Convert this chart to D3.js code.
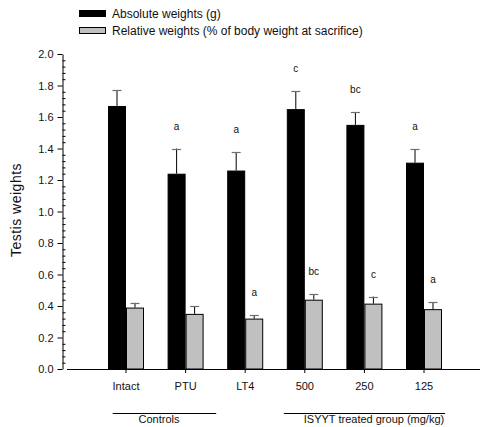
<!DOCTYPE html>
<html>
<head>
<meta charset="utf-8">
<script src="https://cdn.jsdelivr.net/npm/d3@7"></script>
<style>
  body { margin: 0; background: #fff; }
  svg { display: block; font-family: Arial, "Liberation Sans", sans-serif; }
</style>
</head>
<body>
<svg id="chart" width="480" height="427"></svg>
<script>
// Testis weights per treatment group (mean with upper SE bar)
const groups = ["Intact", "PTU", "LT4", "500", "250", "125"];
const absoluteMean = [1.67, 1.24, 1.26, 1.65, 1.55, 1.31];
const absoluteErr = [0.10, 0.16, 0.115, 0.115, 0.08, 0.085];
const relativeMean = [0.39, 0.35, 0.32, 0.44, 0.415, 0.38];
const relativeErr = [0.03, 0.05, 0.02, 0.035, 0.045, 0.045];
const absoluteLetters = ["", "a", "a", "c", "bc", "a"];
const relativeLetters = ["", "", "a", "bc", "c", "a"];
const seriesNames = ["Absolute weights (g)", "Relative weights (% of body weight at sacrifice)"];
const yTicks = [0, 0.2, 0.4, 0.6, 0.8, 1.0, 1.2, 1.4, 1.6, 1.8, 2.0];
const yMinorStep = 0.04;
const yTitle = "Testis weights";
const groupTitles = ["Controls", "ISYYT treated group (mg/kg)"];

const svg = d3.select("#chart");

const y = d3.scaleLinear().domain([0, 2]).range([369, 54]);
const x0 = d3.scaleBand().domain(groups).range([96.2, 453.8])
  .paddingInner(0.396).paddingOuter(0.198);
const x1 = d3.scaleBand().domain(["abs", "rel"]).range([0, x0.bandwidth()]);

const rows = groups.map((g, i) => ({
  group: g,
  bars: [
    { key: "abs", mean: absoluteMean[i], err: absoluteErr[i], letter: absoluteLetters[i] },
    { key: "rel", mean: relativeMean[i], err: relativeErr[i], letter: relativeLetters[i] }
  ]
}));
const fills = { abs: "#000000", rel: "#c0c0c0" };

// x baseline (starts just right of the y axis)
svg.append("line")
  .attr("x1", 67).attr("x2", 480)
  .attr("y1", y(0) + 0.5).attr("y2", y(0) + 0.5)
  .attr("stroke", "#000").attr("stroke-width", 1);

// bars
const gGroup = svg.append("g").selectAll("g").data(rows).join("g")
  .attr("transform", d => `translate(${x0(d.group)},0)`);

gGroup.selectAll("rect").data(d => d.bars).join("rect")
  .attr("x", d => x1(d.key) + 0.5)
  .attr("y", d => y(d.mean) + 0.5)
  .attr("width", x1.bandwidth() - 1)
  .attr("height", d => y(0) - y(d.mean) - 0.5)
  .attr("fill", d => fills[d.key])
  .attr("stroke", "#000").attr("stroke-width", 1);

// upper error bars
gGroup.selectAll("line.stem").data(d => d.bars).join("line")
  .attr("class", "stem")
  .attr("x1", d => x1(d.key) + x1.bandwidth() / 2)
  .attr("x2", d => x1(d.key) + x1.bandwidth() / 2)
  .attr("y1", d => y(d.mean))
  .attr("y2", d => y(d.mean + d.err))
  .attr("stroke", "#000").attr("stroke-width", 1);

gGroup.selectAll("line.cap").data(d => d.bars).join("line")
  .attr("class", "cap")
  .attr("x1", d => x1(d.key) + x1.bandwidth() / 2 - 4.5)
  .attr("x2", d => x1(d.key) + x1.bandwidth() / 2 + 4.5)
  .attr("y1", d => Math.round(y(d.mean + d.err)) + 0.5)
  .attr("y2", d => Math.round(y(d.mean + d.err)) + 0.5)
  .attr("stroke", "#6e6e6e").attr("stroke-width", 1.2);

// significance letters
gGroup.selectAll("text.sig").data(d => d.bars.filter(b => b.letter)).join("text")
  .attr("class", "sig")
  .attr("x", d => x1(d.key) + x1.bandwidth() / 2)
  .attr("y", d => y(d.mean + d.err) - 19)
  .attr("text-anchor", "middle")
  .attr("font-size", 10)
  .attr("fill", "#111")
  .text(d => d.letter);

// y axis: major ticks outside, minor ticks inside
const yAxis = svg.append("g").attr("transform", "translate(62.5,0)")
  .call(d3.axisLeft(y).tickValues(yTicks).tickSize(5).tickSizeOuter(0)
    .tickPadding(4).tickFormat(d3.format(".1f")));
yAxis.select(".domain").attr("stroke", "#000");
yAxis.selectAll("text").attr("font-size", 11).attr("fill", "#111")
  .attr("font-family", "Arial, 'Liberation Sans', sans-serif");

const minorVals = d3.range(0, 2 + 1e-9, yMinorStep)
  .filter(v => !yTicks.some(t => Math.abs(t - v) < 1e-6));
const yMinor = svg.append("g").attr("transform", "translate(62.5,0)")
  .call(d3.axisRight(y).tickValues(minorVals).tickSize(3).tickFormat(""));
yMinor.select(".domain").remove();

// y title
svg.append("text")
  .attr("transform", "translate(20.5,210) rotate(-90)")
  .attr("text-anchor", "middle")
  .attr("font-size", 14)
  .attr("letter-spacing", 0.5)
  .attr("fill", "#111")
  .text(yTitle);

// x axis ticks and category labels
const xAxis = svg.append("g").attr("transform", `translate(0,${y(0)})`)
  .call(d3.axisBottom(x0).tickSize(4).tickSizeOuter(0).tickPadding(9));
xAxis.select(".domain").remove();
xAxis.selectAll("text").attr("font-size", 11).attr("fill", "#111")
  .attr("font-family", "Arial, 'Liberation Sans', sans-serif");

// group brackets under the axis
const brackets = [
  { x1: x0("Intact") + 4.7, x2: x0("LT4") - 11, cx: 159, label: groupTitles[0] },
  { x1: x0("500") - 3, x2: x0("125") + x0.bandwidth() + 3, cx: 374, label: groupTitles[1] }
];
const gb = svg.append("g").selectAll("g").data(brackets).join("g");
gb.append("line")
  .attr("x1", d => d.x1).attr("x2", d => d.x2)
  .attr("y1", 413.5).attr("y2", 413.5)
  .attr("stroke", "#000").attr("stroke-width", 1);
gb.append("text")
  .attr("x", d => d.cx).attr("y", 423)
  .attr("text-anchor", "middle")
  .attr("font-size", 11).attr("fill", "#111")
  .text(d => d.label);

// legend
const legend = svg.append("g").selectAll("g").data(["abs", "rel"]).join("g")
  .attr("transform", (d, i) => `translate(79,${10 + i * 17})`);
legend.append("rect")
  .attr("x", 0.5).attr("y", 0.5).attr("width", 26).attr("height", 6)
  .attr("fill", d => fills[d]).attr("stroke", "#000");
legend.append("text")
  .attr("x", 33).attr("y", 7.5)
  .attr("font-size", 12).attr("fill", "#111")
  .text((d, i) => seriesNames[i]);
</script>
</body>
</html>
